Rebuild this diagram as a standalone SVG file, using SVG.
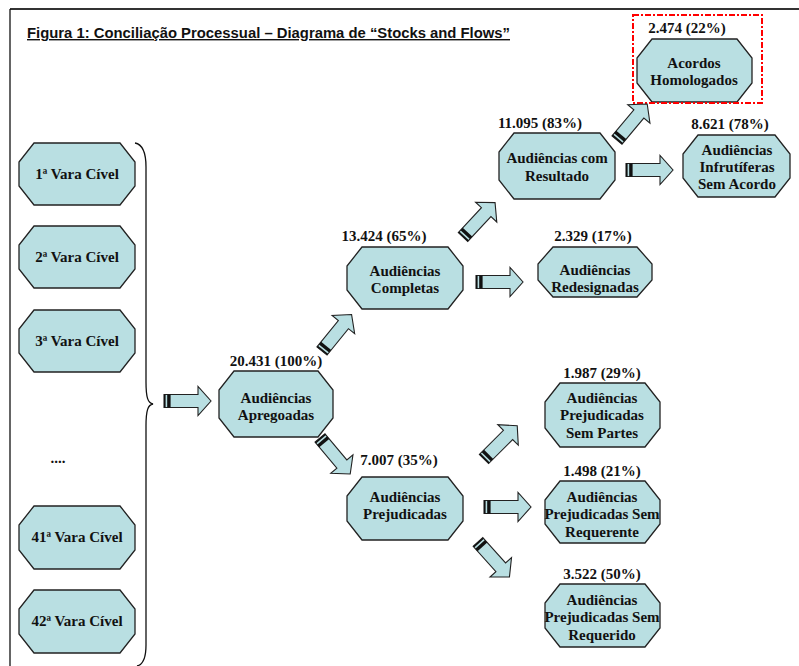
<svg xmlns="http://www.w3.org/2000/svg" width="799" height="666" viewBox="0 0 799 666">
<style>
.oct{fill:#B9DFE2;stroke:#222;stroke-width:1.3}
.t{font-family:"Liberation Serif","Times New Roman",serif;font-weight:bold;font-size:15px;fill:#111;text-anchor:middle}
.title{font-family:"Liberation Sans",Arial,sans-serif;font-weight:bold;font-size:14px;fill:#111;text-decoration:underline}
.ab{fill:#B9DFE2;stroke:#222;stroke-width:1.1}
.st{fill:#111}
</style>
<defs>
<g id="arr">
<polygon class="ab" points="0,-6.5 34,-6.5 34,-14.5 47,0 34,14.5 34,6.5 0,6.5"/>
<rect class="st" x="0" y="-6.5" width="1.6" height="13"/>
<rect class="st" x="3.2" y="-6.5" width="3.4" height="13"/>
</g>
</defs>
<rect width="799" height="666" fill="#fff"/>
<g id="frame" fill="none">
<line x1="10" y1="9" x2="799" y2="9" stroke="#333" stroke-width="2"/>
<line x1="10" y1="9" x2="10" y2="666" stroke="#111" stroke-width="1.3"/>
</g>
<text class="title" x="27" y="38" textLength="483" lengthAdjust="spacingAndGlyphs">Figura 1: Conciliação Processual – Diagrama de “Stocks and Flows”</text>
<path id="bracket" d="M135,143 Q146,145 146,167 L146,382 C146,398 148,403 153,404 C148,405 146,410 146,426 L146,645 Q146,664 137,666" fill="none" stroke="#111" stroke-width="1.3"/>
<g id="v1"><polygon class="oct" points="34,143 120,143 135,162 135,186 120,205 34,205 19,186 19,162"/><text class="t" x="77" y="179">1ª Vara Cível</text></g>
<g id="v2"><polygon class="oct" points="34,226 120,226 135,245 135,269 120,288 34,288 19,269 19,245"/><text class="t" x="77" y="262">2ª Vara Cível</text></g>
<g id="v3"><polygon class="oct" points="34,310 120,310 135,329 135,353 120,372 34,372 19,353 19,329"/><text class="t" x="77" y="346">3ª Vara Cível</text></g>
<text class="t" x="58" y="463">....</text>
<g id="v41"><polygon class="oct" points="34,506 120,506 135,525 135,550 120,569 34,569 19,550 19,525"/><text class="t" x="77" y="542">41ª Vara Cível</text></g>
<g id="v42"><polygon class="oct" points="34,590 120,590 135,609 135,634 120,653 34,653 19,634 19,609"/><text class="t" x="77" y="626">42ª Vara Cível</text></g>
<g id="apregoadas"><polygon class="oct" points="234,371 318,371 333,390 333,418 318,437 234,437 219,418 219,390"/><text class="t" x="276" y="366">20.431 (100%)</text><text class="t" x="276" y="403">Audiências</text><text class="t" x="276" y="420">Apregoadas</text></g>
<g id="completas"><polygon class="oct" points="362,247 448,247 463,266 463,290 448,309 362,309 347,290 347,266"/><text class="t" x="384" y="241">13.424 (65%)</text><text class="t" x="405" y="276">Audiências</text><text class="t" x="405" y="293">Completas</text></g>
<g id="redesignadas"><polygon class="oct" points="553,247 637,247 652,264 652,280 637,297 553,297 538,280 538,264"/><text class="t" x="593" y="241">2.329 (17%)</text><text class="t" x="595" y="275">Audiências</text><text class="t" x="595" y="292">Redesignadas</text></g>
<g id="resultado"><polygon class="oct" points="514,133 600,133 615,152 615,180 600,199 514,199 499,180 499,152"/><text class="t" x="540" y="128">11.095 (83%)</text><text class="t" x="557" y="163">Audiências com</text><text class="t" x="557" y="181">Resultado</text></g>
<g id="acordos"><polygon class="oct" points="652,39 737,39 752,58 752,83 737,102 652,102 637,83 637,58"/><text class="t" x="687" y="33">2.474 (22%)</text><text class="t" x="694" y="68">Acordos</text><text class="t" x="694" y="85">Homologados</text></g>
<rect id="highlight" x="633" y="15" width="129" height="88" fill="none" stroke="#F00" stroke-width="2" stroke-dasharray="6,2,2,2"/>
<g id="infrutiferas"><polygon class="oct" points="698,135 775,135 790,154 790,178 775,197 698,197 683,178 683,154"/><text class="t" x="730" y="129">8.621 (78%)</text><text class="t" x="737" y="155">Audiências</text><text class="t" x="737" y="172">Infrutíferas</text><text class="t" x="737" y="189">Sem Acordo</text></g>
<g id="prejudicadas"><polygon class="oct" points="362,477 448,477 463,496 463,521 448,540 362,540 347,521 347,496"/><text class="t" x="399" y="465">7.007 (35%)</text><text class="t" x="405" y="502">Audiências</text><text class="t" x="405" y="519">Prejudicadas</text></g>
<g id="sempartes"><polygon class="oct" points="560,383 645,383 660,402 660,428 645,447 560,447 545,428 545,402"/><text class="t" x="602" y="378">1.987 (29%)</text><text class="t" x="602" y="403">Audiências</text><text class="t" x="602" y="420">Prejudicadas</text><text class="t" x="602" y="438">Sem Partes</text></g>
<g id="semrequerente"><polygon class="oct" points="560,481 645,481 660,500 660,524 645,543 560,543 545,524 545,500"/><text class="t" x="602" y="476">1.498 (21%)</text><text class="t" x="602" y="502">Audiências</text><text class="t" x="602" y="519">Prejudicadas Sem</text><text class="t" x="602" y="537">Requerente</text></g>
<g id="semrequerido"><polygon class="oct" points="560,584 645,584 660,603 660,628 645,647 560,647 545,628 545,603"/><text class="t" x="602" y="579">3.522 (50%)</text><text class="t" x="602" y="605">Audiências</text><text class="t" x="602" y="622">Prejudicadas Sem</text><text class="t" x="602" y="640">Requerido</text></g>
<g id="connectors">
<use href="#arr" transform="translate(164,401)"/>
<use href="#arr" transform="translate(322,351) rotate(-51)"/>
<use href="#arr" transform="translate(463,237) rotate(-47)"/>
<use href="#arr" transform="translate(617,140) rotate(-50)"/>
<use href="#arr" transform="translate(476,282)"/>
<use href="#arr" transform="translate(626,170)"/>
<use href="#arr" transform="translate(320,438) rotate(50)"/>
<use href="#arr" transform="translate(484,459) rotate(-45)"/>
<use href="#arr" transform="translate(484,507)"/>
<use href="#arr" transform="translate(478,542) rotate(48)"/>
</g>
</svg>
